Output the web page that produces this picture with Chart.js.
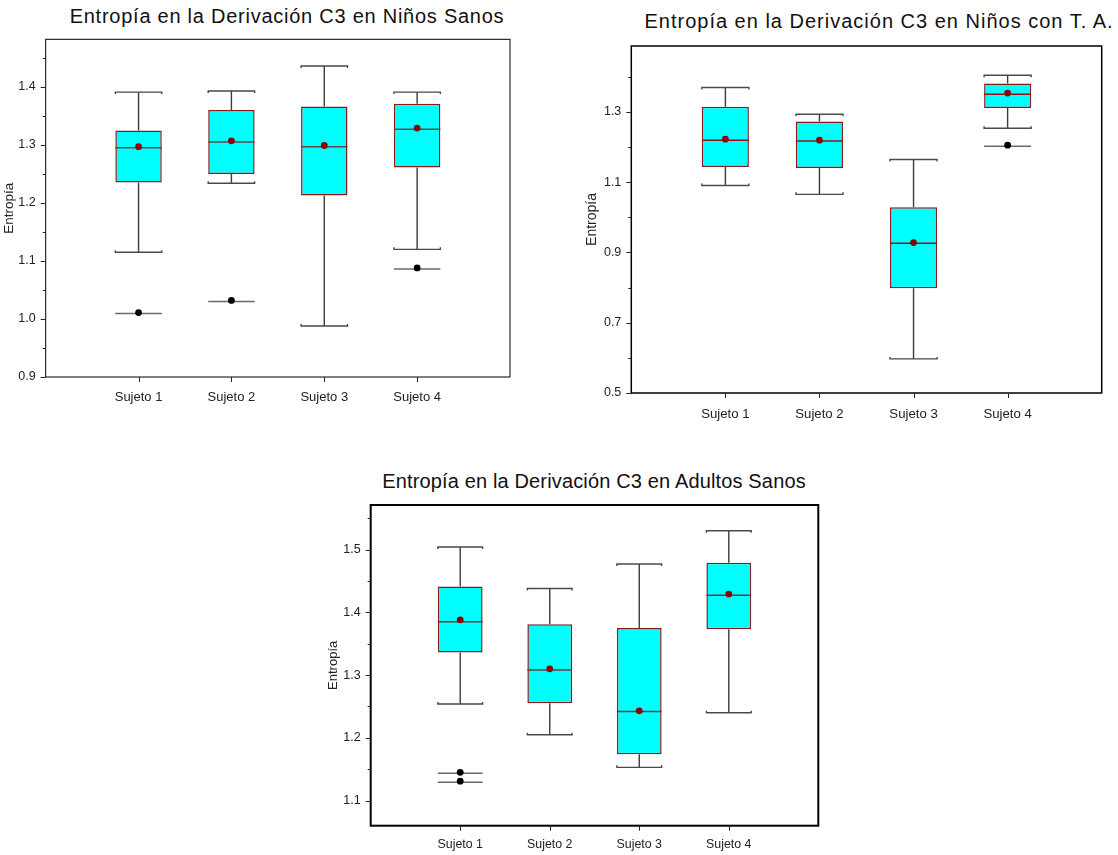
<!DOCTYPE html>
<html>
<head>
<meta charset="utf-8">
<script src="https://cdn.jsdelivr.net/npm/chart.js@4/dist/chart.umd.min.js"></script>
<style>
  html, body { margin: 0; padding: 0; background: #fff; }
  body { width: 1118px; height: 855px; position: relative; overflow: hidden; font-family: 'Liberation Sans', Arial, sans-serif; }
  .wrap { position: absolute; }
  .ttl { position: absolute; white-space: nowrap; font-size: 20px; color: #111; transform: translate(-50%, -50%); line-height: 1; }
</style>
</head>
<body>
<div class="ttl" style="left:287px; top:16px; letter-spacing:0.75px;">Entropía en la Derivación C3 en Niños Sanos</div>
<div class="ttl" style="left:879px; top:21px; letter-spacing:1px;">Entropía en la Derivación C3 en Niños con T. A.</div>
<div class="ttl" style="left:594px; top:481px; letter-spacing:0.15px;">Entropía en la Derivación C3 en Adultos Sanos</div>

<div class="wrap" style="left:0px; top:30px;"><canvas id="c1" width="530" height="380"></canvas></div>
<div class="wrap" style="left:580px; top:40px;"><canvas id="c2" width="538" height="390"></canvas></div>
<div class="wrap" style="left:320px; top:495px;"><canvas id="c3" width="520" height="360"></canvas></div>

<script>
// ---------- DATA ----------
const categories = ['Sujeto 1', 'Sujeto 2', 'Sujeto 3', 'Sujeto 4'];

// Chart 1: Niños Sanos
const low1    = [1.115, 1.234, 0.988, 1.120];
const q1_1    = [1.235, 1.250, 1.213, 1.261];
const median1 = [1.295, 1.305, 1.297, 1.327];
const q3_1    = [1.325, 1.360, 1.366, 1.371];
const high1   = [1.391, 1.393, 1.436, 1.391];
const mean1   = [1.297, 1.307, 1.299, 1.329];
const outliers1 = [[1.011], [1.032], [], [1.088]];
const yTicks1 = [0.9, 1.0, 1.1, 1.2, 1.3, 1.4];
const yMinor1 = [0.95, 1.05, 1.15, 1.25, 1.35, 1.45];

// Chart 2: Niños con T. A.
const low2    = [1.090, 1.065, 0.597, 1.253];
const q1_2    = [1.143, 1.140, 0.798, 1.311];
const median2 = [1.219, 1.217, 0.926, 1.350];
const q3_2    = [1.314, 1.272, 1.028, 1.380];
const high2   = [1.369, 1.293, 1.164, 1.404];
const mean2   = [1.222, 1.219, 0.928, 1.353];
const outliers2 = [[], [], [], [1.205]];
const yTicks2 = [0.5, 0.7, 0.9, 1.1, 1.3];
const yMinor2 = [0.6, 0.8, 1.0, 1.2, 1.4];

// Chart 3: Adultos Sanos
const low3    = [1.254, 1.205, 1.153, 1.240];
const q1_3    = [1.336, 1.255, 1.174, 1.373];
const median3 = [1.385, 1.308, 1.242, 1.427];
const q3_3    = [1.441, 1.381, 1.375, 1.479];
const high3   = [1.504, 1.438, 1.477, 1.530];
const mean3   = [1.388, 1.310, 1.243, 1.429];
const outliers3 = [[1.145, 1.131], [], [], []];
const yTicks3 = [1.1, 1.2, 1.3, 1.4, 1.5];
const yMinor3 = [1.15, 1.25, 1.35, 1.45, 1.55];

// ---------- RENDERING ----------
const FONT = "'Liberation Sans', Arial, sans-serif";

const boxPlugin = {
  id: 'boxExtras',
  beforeDatasetsDraw(chart) {
    const o = chart.options.plugins.boxExtras;
    const ctx = chart.ctx;
    const ys = chart.scales.y;
    const meta = chart.getDatasetMeta(0);
    ctx.save();
    ctx.lineCap = 'butt';
    meta.data.forEach((bar, i) => {
      const x = bar.x, hw = bar.width / 2;
      const yLow = ys.getPixelForValue(o.low[i]);
      const yHigh = ys.getPixelForValue(o.high[i]);
      const yQ1 = ys.getPixelForValue(o.q1[i]);
      const yQ3 = ys.getPixelForValue(o.q3[i]);
      ctx.strokeStyle = '#3c3c3c';
      ctx.lineWidth = 1.4;
      ctx.beginPath();
      ctx.moveTo(x, yQ3); ctx.lineTo(x, yHigh);
      ctx.moveTo(x, yQ1); ctx.lineTo(x, yLow);
      ctx.stroke();
      ctx.strokeStyle = '#4a4a4a';
      ctx.beginPath();
      ctx.moveTo(x - hw, yHigh + 2); ctx.lineTo(x - hw, yHigh); ctx.lineTo(x + hw, yHigh); ctx.lineTo(x + hw, yHigh + 2);
      ctx.moveTo(x - hw, yLow - 2); ctx.lineTo(x - hw, yLow); ctx.lineTo(x + hw, yLow); ctx.lineTo(x + hw, yLow - 2);
      ctx.stroke();
      ctx.strokeStyle = '#6a6a6a';
      ctx.lineWidth = 1.5;
      (o.outliers[i] || []).forEach(v => {
        const yy = ys.getPixelForValue(v) + 1;
        ctx.beginPath();
        ctx.moveTo(x - hw, yy); ctx.lineTo(x + hw, yy);
        ctx.stroke();
      });
    });
    ctx.restore();
  },
  afterDatasetDraw(chart, args) {
    if (args.index !== 0) return;
    const o = chart.options.plugins.boxExtras;
    const ctx = chart.ctx;
    const ys = chart.scales.y;
    ctx.save();
    ctx.strokeStyle = o.medianColor;
    ctx.lineWidth = 1.5;
    args.meta.data.forEach((bar, i) => {
      const hw = bar.width / 2;
      const ym = ys.getPixelForValue(o.median[i]);
      ctx.beginPath();
      ctx.moveTo(bar.x - hw, ym); ctx.lineTo(bar.x + hw, ym);
      ctx.stroke();
    });
    ctx.restore();
  },
  afterDraw(chart) {
    const o = chart.options.plugins.boxExtras;
    const ctx = chart.ctx;
    const a = chart.chartArea;
    const ys = chart.scales.y, xs = chart.scales.x;
    ctx.save();
    ctx.strokeStyle = '#000';
    ctx.lineWidth = o.frameWidth;
    ctx.strokeRect(a.left, a.top, a.right - a.left, a.bottom - a.top);
    ctx.lineWidth = 1;
    ctx.strokeStyle = '#222';
    ctx.beginPath();
    o.yMajor.forEach(v => {
      const y = Math.round(ys.getPixelForValue(v)) + 0.5;
      ctx.moveTo(a.left - 5, y); ctx.lineTo(a.left, y);
    });
    o.yMinor.forEach(v => {
      const y = Math.round(ys.getPixelForValue(v)) + 0.5;
      if (y > a.top && y < a.bottom) { ctx.moveTo(a.left - 3, y); ctx.lineTo(a.left, y); }
    });
    xs.ticks.forEach(t => {
      const x = Math.round(xs.getPixelForValue(t.value)) + 0.5;
      ctx.moveTo(x, a.bottom); ctx.lineTo(x, a.bottom + 5);
    });
    ctx.stroke();
    ctx.restore();
  }
};

function makeChart(id, d, lay) {
  const datasets = [
    {
      type: 'bar',
      data: categories.map((c, i) => ({ x: i + 1, y: [d.q1[i], d.q3[i]] })),
      backgroundColor: '#00ffff',
      borderColor: '#8b1a1a',
      borderWidth: 1.5,
      borderSkipped: false,
      barPercentage: 0.5,
      categoryPercentage: 1,
      order: 3
    },
    {
      type: 'scatter',
      data: categories.map((c, i) => ({ x: i + 1, y: d.mean[i] })),
      pointBackgroundColor: '#8b0000',
      pointBorderWidth: 0,
      pointRadius: 3.4,
      order: 1
    },
    {
      type: 'scatter',
      data: d.outliers.flatMap((arr, i) => arr.map(v => ({ x: i + 1, y: v }))),
      pointBackgroundColor: '#000',
      pointBorderWidth: 0,
      pointRadius: 3.4,
      order: 2
    }
  ];
  const noPad = s => { s.paddingTop = 0; s.paddingBottom = 0; s.paddingLeft = 0; s.paddingRight = 0; };
  return new Chart(document.getElementById(id), {
    type: 'bar',
    data: { datasets },
    plugins: [boxPlugin],
    options: {
      responsive: false,
      animation: false,
      events: [],
      layout: { padding: { top: lay.top, right: lay.right, left: 0, bottom: 0 } },
      plugins: {
        legend: { display: false },
        tooltip: { enabled: false },
        title: { display: false },
        boxExtras: {
          low: d.low, high: d.high, q1: d.q1, q3: d.q3, median: d.median,
          outliers: d.outliers, yMajor: d.yTicks, yMinor: d.yMinor,
          medianColor: lay.medianColor, frameWidth: lay.frameWidth
        }
      },
      scales: {
        x: {
          type: 'linear',
          min: 0, max: 5,
          offset: false,
          grid: { display: false, drawTicks: false, offset: false },
          border: { display: false },
          afterBuildTicks: s => { s.ticks = categories.map((c, i) => ({ value: i + 1 })); },
          afterFit: s => { s.height = lay.xHeight; noPad(s); },
          ticks: {
            autoSkip: false, maxRotation: 0, padding: lay.xPad,
            color: '#222', font: { family: FONT, size: lay.xFont },
            callback: v => categories[v - 1]
          }
        },
        y: {
          type: 'linear',
          min: lay.yMin, max: lay.yMax,
          beginAtZero: false,
          grid: { display: false, drawTicks: false },
          border: { display: false },
          afterBuildTicks: s => { s.ticks = d.yTicks.map(v => ({ value: v })); },
          afterFit: s => { s.width = lay.yWidth; noPad(s); },
          ticks: {
            padding: 10, color: '#222', font: { family: FONT, size: 12.5 },
            callback: v => v.toFixed(1)
          },
          title: {
            display: true, text: 'Entropía', color: '#222',
            font: { family: FONT, size: lay.yTitleFont },
            padding: { top: lay.yTitlePad, bottom: 0 }
          }
        }
      }
    }
  });
}

makeChart('c1',
  { low: low1, q1: q1_1, median: median1, q3: q3_1, high: high1, mean: mean1, outliers: outliers1, yTicks: yTicks1, yMinor: yMinor1 },
  { top: 9.3, right: 20, yWidth: 45.7, xHeight: 33, xPad: 13, xFont: 13, yMin: 0.9, yMax: 1.482, yTitlePad: 1, yTitleFont: 13.5, medianColor: '#5a4a4a', frameWidth: 1 });

makeChart('c2',
  { low: low2, q1: q1_2, median: median2, q3: q3_2, high: high2, mean: mean2, outliers: outliers2, yTicks: yTicks2, yMinor: yMinor2 },
  { top: 6, right: 16.3, yWidth: 51.3, xHeight: 37, xPad: 13, xFont: 13.2, yMin: 0.5, yMax: 1.487, yTitlePad: 4, yTitleFont: 14, medianColor: '#9a1010', frameWidth: 1.5 });

makeChart('c3',
  { low: low3, q1: q1_3, median: median3, q3: q3_3, high: high3, mean: mean3, outliers: outliers3, yTicks: yTicks3, yMinor: yMinor3 },
  { top: 10, right: 21.7, yWidth: 50.7, xHeight: 29.3, xPad: 11, xFont: 12.4, yMin: 1.06, yMax: 1.571, yTitlePad: 6, yTitleFont: 13, medianColor: '#6a3a3a', frameWidth: 2 });
</script>
</body>
</html>
